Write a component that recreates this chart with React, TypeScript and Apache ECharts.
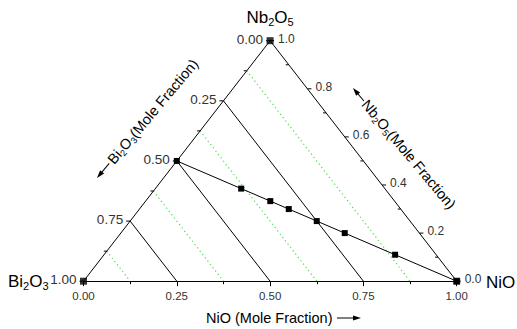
import React, { useEffect, useRef } from 'react';
import * as echarts from 'echarts';

// ---- data ----
const baseTickLabels = ['0.00', '0.25', '0.50', '0.75', '1.00'];
const leftTicks = [0, 0.25, 0.5, 0.75, 1]; // Bi2O3 fraction along left edge
const leftTickLabels = ['0.00', '0.25', '0.50', '0.75', '1.00'];
const leftMinorTicks = [0.125, 0.375, 0.625, 0.875];
const rightTicks = [0, 0.2, 0.4, 0.6, 0.8, 1]; // Nb2O5 fraction along right edge
const rightTickLabels = ['0.0', '0.2', '0.4', '0.6', '0.8', '1.0'];
const rightMinorTicks = [0.1, 0.3, 0.5, 0.7, 0.9];
const solidBiLines = [0.25, 0.5, 0.75];
const dottedBiLines = [0.125, 0.375, 0.625, 0.875];
// sample compositions (mole fractions)
const sampleBi = [0.5, 0.385, 0.333, 0.3, 0.25, 0.2, 0.11, 0];
const sampleNb = [0.5, 0.385, 0.333, 0.3, 0.25, 0.2, 0.11, 0];
const sampleNi = [0, 0.23, 0.334, 0.4, 0.5, 0.6, 0.78, 1];
// vertices [Bi2O3, Nb2O5, NiO]
const vertexBi = [1, 0, 0];
const vertexNb = [0, 1, 0];
const vertexNi = [0, 0, 1];

const FONT = "Arial, 'Liberation Sans', sans-serif";

// ternary -> cartesian (x along base, y = height fraction)
const toCart = (bi: number, nb: number, ni: number) => [ni + nb / 2, nb];

const leftPt = (b: number) => toCart(b, 1 - b, 0);
const rightPt = (n: number) => toCart(0, n, 1 - n);
const basePt = (ni: number) => toCart(1 - ni, 0, ni);

const subRich = (size: number) => ({
  n: { fontSize: size, fontFamily: FONT, lineHeight: size + 3, fill: '#000' },
  s: { fontSize: Math.round(size * 0.65), fontFamily: FONT, lineHeight: Math.round(size * 0.6), verticalAlign: 'bottom', fill: '#000' },
});

function buildOption() {
  const series: any[] = [];

  // triangle left/right edges
  series.push({
    type: 'line',
    data: [vertexBi, vertexNb, vertexNi].map((_, i) => toCart(vertexBi[i], vertexNb[i], vertexNi[i])),
    symbol: 'none',
    lineStyle: { color: '#000', width: 1 },
    silent: true,
    z: 3,
  });

  solidBiLines.forEach((b) => {
    series.push({
      type: 'line',
      data: [leftPt(b), basePt(1 - b)],
      symbol: 'none',
      lineStyle: { color: '#000', width: 1 },
      silent: true,
      z: 3,
    });
  });

  dottedBiLines.forEach((b) => {
    series.push({
      type: 'line',
      data: [leftPt(b), basePt(1 - b)],
      symbol: 'none',
      lineStyle: { color: '#44e044', width: 1.2, type: [1.2, 3] },
      silent: true,
      z: 2,
    });
  });

  // left edge ticks & labels
  series.push({
    type: 'custom',
    coordinateSystem: 'cartesian2d',
    silent: true,
    z: 4,
    data: leftTicks.map((b, i) => [...leftPt(b), i]),
    renderItem: (_p: any, api: any) => {
      const p = api.coord([api.value(0), api.value(1)]);
      const i = api.value(2);
      return {
        type: 'group',
        children: [
          { type: 'line', shape: { x1: p[0] - 4, y1: p[1], x2: p[0], y2: p[1] }, style: { stroke: '#000', lineWidth: 1 } },
          { type: 'text', x: p[0] - 7, y: p[1] - 1.5, style: { text: leftTickLabels[i], fill: '#333', font: `13.5px ${FONT}`, align: 'right', verticalAlign: 'middle' } },
        ],
      };
    },
  });
  series.push({
    type: 'custom',
    coordinateSystem: 'cartesian2d',
    silent: true,
    z: 4,
    data: leftMinorTicks.map((b) => leftPt(b)),
    renderItem: (_p: any, api: any) => {
      const p = api.coord([api.value(0), api.value(1)]);
      return { type: 'line', shape: { x1: p[0] - 3, y1: p[1], x2: p[0], y2: p[1] }, style: { stroke: '#000', lineWidth: 1 } };
    },
  });

  // right edge ticks & labels
  series.push({
    type: 'custom',
    coordinateSystem: 'cartesian2d',
    silent: true,
    z: 4,
    data: rightTicks.map((n, i) => [...rightPt(n), i]),
    renderItem: (_p: any, api: any) => {
      const p = api.coord([api.value(0), api.value(1)]);
      const i = api.value(2);
      return {
        type: 'group',
        children: [
          { type: 'line', shape: { x1: p[0], y1: p[1], x2: p[0] + 4, y2: p[1] }, style: { stroke: '#000', lineWidth: 1 } },
          { type: 'text', x: p[0] + 8, y: p[1] - 2, style: { text: rightTickLabels[i], fill: '#333', font: `12px ${FONT}`, align: 'left', verticalAlign: 'middle' } },
        ],
      };
    },
  });
  series.push({
    type: 'custom',
    coordinateSystem: 'cartesian2d',
    silent: true,
    z: 4,
    data: rightMinorTicks.map((n) => rightPt(n)),
    renderItem: (_p: any, api: any) => {
      const p = api.coord([api.value(0), api.value(1)]);
      return { type: 'line', shape: { x1: p[0] - 3, y1: p[1], x2: p[0], y2: p[1] }, style: { stroke: '#000', lineWidth: 1 } };
    },
  });

  // sample series
  series.push({
    type: 'line',
    data: sampleNi.map((_, i) => toCart(sampleBi[i], sampleNb[i], sampleNi[i])),
    symbol: 'rect',
    symbolSize: 6,
    showAllSymbol: true,
    itemStyle: { color: '#000' },
    lineStyle: { color: '#000', width: 1 },
    z: 6,
  });

  // vertex markers
  series.push({
    type: 'scatter',
    data: vertexBi.map((_, i) => toCart(vertexBi[i], vertexNb[i], vertexNi[i])),
    symbol: 'rect',
    symbolSize: 7,
    itemStyle: { color: '#000' },
    z: 7,
  });

  const deg = Math.PI / 180;

  return {
    animation: false,
    backgroundColor: '#fff',
    grid: { left: 83.5, top: 40.7, width: 373.2, height: 240.5, containLabel: false },
    xAxis: {
      type: 'value',
      min: 0,
      max: 1,
      interval: 0.25,
      axisLine: { show: true, lineStyle: { color: '#000', width: 1 } },
      axisTick: { show: true, inside: false, length: 5, lineStyle: { color: '#000' } },
      minorTick: { show: true, splitNumber: 2, length: 3, lineStyle: { color: '#000' } },
      splitLine: { show: false },
      axisLabel: {
        margin: 9,
        color: '#333',
        fontSize: 11.5,
        fontFamily: FONT,
        formatter: (v: number) => baseTickLabels[Math.round(v * 4)],
      },
    },
    yAxis: { type: 'value', min: 0, max: 1, show: false },
    series,
    graphic: [
      {
        type: 'text', x: 270, y: 17,
        style: { text: '{n|Nb}{s|2}{n|O}{s|5}', rich: subRich(17), align: 'center', verticalAlign: 'middle' },
      },
      {
        type: 'text', x: 8, y: 281,
        style: { text: '{n|Bi}{s|2}{n|O}{s|3}', rich: subRich(17), align: 'left', verticalAlign: 'middle' },
      },
      {
        type: 'text', x: 486, y: 282,
        style: { text: 'NiO', fill: '#000', font: `17px ${FONT}`, align: 'left', verticalAlign: 'middle' },
      },
      // bottom axis title
      {
        type: 'text', x: 206, y: 318,
        style: { text: 'NiO (Mole Fraction)', fill: '#000', font: `14.5px ${FONT}`, align: 'left', verticalAlign: 'middle' },
      },
      { type: 'line', shape: { x1: 337, y1: 318, x2: 354, y2: 318 }, style: { stroke: '#000', lineWidth: 1 } },
      { type: 'polygon', shape: { points: [[361, 318], [353, 315.5], [353, 320.5]] }, style: { fill: '#000' } },
      // left axis title
      {
        type: 'group', x: 97, y: 178, rotation: 50 * deg,
        children: [
          { type: 'line', shape: { x1: 6, y1: 0, x2: 19, y2: 0 }, style: { stroke: '#000', lineWidth: 1 } },
          { type: 'polygon', shape: { points: [[0, 0], [8, -2.6], [8, 2.6]] }, style: { fill: '#000' } },
          {
            type: 'text', x: 21, y: 0,
            style: { text: '{n|Bi}{s|2}{n|O}{s|3}{n|(Mole Fraction)}', rich: subRich(14.5), align: 'left', verticalAlign: 'middle' },
          },
        ],
      },
      // right axis title
      {
        type: 'group', x: 353, y: 88, rotation: -50 * deg,
        children: [
          { type: 'line', shape: { x1: 6, y1: 0, x2: 17, y2: 0 }, style: { stroke: '#000', lineWidth: 1 } },
          { type: 'polygon', shape: { points: [[0, 0], [8, -2.6], [8, 2.6]] }, style: { fill: '#000' } },
          {
            type: 'text', x: 18, y: 0,
            style: { text: '{n|Nb}{s|2}{n|O}{s|5}{n|(Mole Fraction)}', rich: subRich(14.5), align: 'left', verticalAlign: 'middle' },
          },
        ],
      },
    ],
  };
}

export default function App() {
  const ref = useRef<HTMLDivElement>(null);
  useEffect(() => {
    const chart = echarts.init(ref.current!, null, { renderer: 'svg' });
    chart.setOption(buildOption() as any);
    return () => chart.dispose();
  }, []);
  return <div ref={ref} style={{ position: 'fixed', left: 0, top: 0, width: 517, height: 329 }} />;
}
